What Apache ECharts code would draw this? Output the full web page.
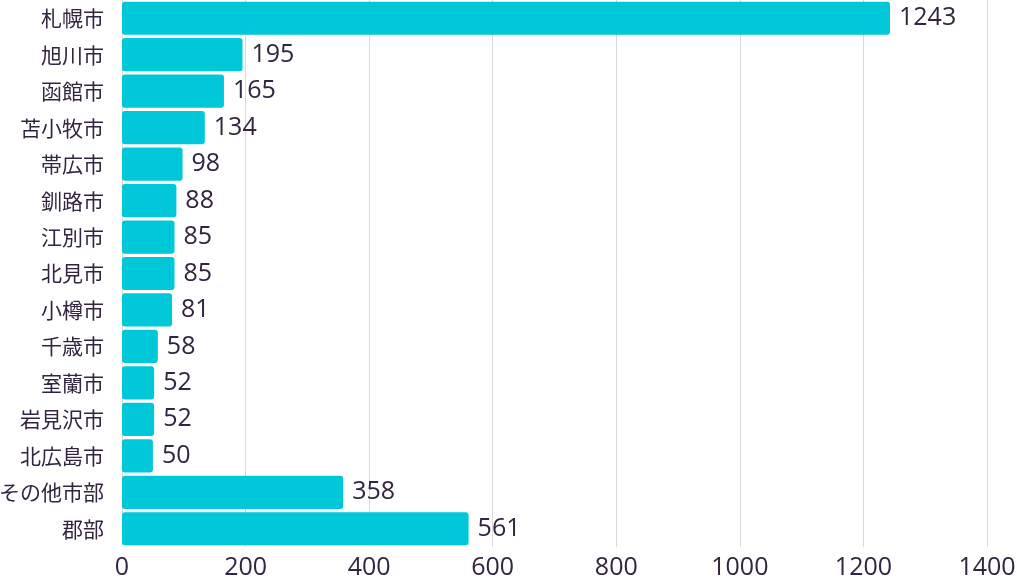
<!DOCTYPE html>
<html><head><meta charset="utf-8">
<script src="https://cdn.jsdelivr.net/npm/echarts@6/dist/echarts.min.js"></script>
<style>html,body{margin:0;padding:0;background:#fff}#c{width:1017px;height:577px}</style>
</head><body><div id="c"></div>
<script>
const categories = ['札幌市','旭川市','函館市','苫小牧市','帯広市','釧路市','江別市','北見市','小樽市','千歳市','室蘭市','岩見沢市','北広島市','その他市部','郡部'];
const values = [1243,195,165,134,98,88,85,85,81,58,52,52,50,358,561];
const xTicks = {min:0, max:1400, interval:200};

const chart = echarts.init(document.getElementById('c'));
const txt = '#33243f';
chart.setOption({
  animation:false,
  grid:{left:122, right:30, top:0, bottom:30, containLabel:false, outerBoundsMode:'none'},
  xAxis:{type:'value', min:xTicks.min, max:xTicks.max, interval:xTicks.interval,
    axisLine:{show:false}, axisTick:{show:false},
    splitLine:{lineStyle:{color:'#d9d9d9', width:1}},
    axisLabel:{color:txt, fontSize:25, fontFamily:'Open Sans', margin:8, formatter:v=>String(v)}},
  yAxis:{type:'category', data:categories, inverse:true,
    axisLine:{show:false}, axisTick:{show:false},
    axisLabel:{color:txt, fontSize:21, fontFamily:'Noto Sans CJK JP', margin:18}},
  series:[{type:'bar', data:values, barCategoryGap:'9%',
    itemStyle:{color:'#00c8d8', borderRadius:3},
    label:{show:true, position:'right', distance:9, color:txt, fontSize:25, fontFamily:'Open Sans'}}]
});
</script></body></html>
